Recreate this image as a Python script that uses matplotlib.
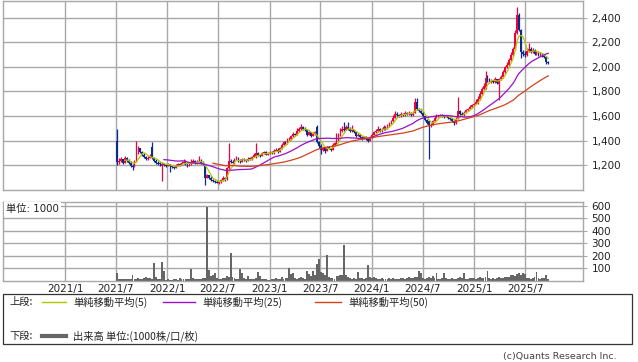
import numpy as np
import pandas as pd
import matplotlib
matplotlib.use('Agg')
import matplotlib.pyplot as plt
import matplotlib.dates as mdates
from matplotlib.lines import Line2D
from matplotlib.patches import Rectangle
from matplotlib.ticker import FixedLocator, FuncFormatter

W, H = 638, 362
plt.rcParams['font.family'] = ['DejaVu Sans', 'Noto Sans CJK JP']

# ---------------- data (weekly candles) ----------------
start_week = '2021-07-05'

opens = [
    1400, 1230, 1240, 1250, 1225, 1260, 1240, 1225, 1200, 1190,
    1235, 1300, 1340, 1310, 1290, 1270, 1250, 1265, 1350, 1260,
    1240, 1225, 1215, 1200, 1215, 1205, 1200, 1210, 1195, 1185,
    1180, 1200, 1210, 1205, 1220, 1230, 1215, 1200, 1210, 1225,
    1235, 1220, 1230, 1240, 1225, 1200, 1100, 1120, 1100, 1080,
    1075, 1070, 1060, 1065, 1080, 1100, 1090, 1180, 1240, 1230,
    1220, 1250, 1260, 1240, 1230, 1250, 1245, 1240, 1255, 1250,
    1270, 1270, 1300, 1290, 1280, 1300, 1310, 1290, 1300, 1310,
    1300, 1320, 1330, 1310, 1340, 1370, 1390, 1380, 1410, 1420,
    1440, 1460, 1450, 1480, 1500, 1510, 1500, 1490, 1450, 1470,
    1440, 1460, 1510, 1390, 1360, 1330, 1340, 1320, 1350, 1340,
    1330, 1370, 1380, 1400, 1440, 1480, 1500, 1490, 1510, 1500,
    1480, 1490, 1470, 1440, 1450, 1430, 1420, 1430, 1420, 1400,
    1430, 1450, 1470, 1480, 1500, 1480, 1490, 1510, 1500, 1520,
    1540, 1560, 1590, 1620, 1610, 1600, 1620, 1610, 1630, 1620,
    1625, 1610, 1630, 1720, 1660, 1640, 1630, 1600, 1570, 1560,
    1520, 1530, 1560, 1590, 1600, 1600, 1610, 1600, 1595, 1600,
    1590, 1580, 1560, 1545, 1580, 1640, 1620, 1610, 1630, 1650,
    1660, 1680, 1690, 1700, 1700, 1740, 1780, 1820, 1830, 1910,
    1900, 1880, 1890, 1880, 1900, 1860, 1900, 1920, 1960, 2000,
    2020, 2060, 2100, 2150, 2280, 2420, 2300, 2120, 2110, 2100,
    2130, 2150, 2120, 2140, 2110, 2120, 2100, 2110, 2090, 2080,
    2040,
]

highs = [
    1495, 1260, 1270, 1255, 1280, 1265, 1250, 1235, 1215, 1240,
    1400, 1360, 1345, 1320, 1300, 1280, 1275, 1290, 1390, 1270,
    1250, 1235, 1225, 1225, 1220, 1215, 1220, 1215, 1200, 1195,
    1210, 1220, 1220, 1235, 1250, 1240, 1225, 1220, 1250, 1250,
    1240, 1240, 1275, 1250, 1235, 1210, 1130, 1125, 1110, 1090,
    1085, 1080, 1075, 1090, 1110, 1105, 1190, 1380, 1255, 1240,
    1260, 1275, 1265, 1250, 1260, 1260, 1255, 1265, 1265, 1280,
    1300, 1380, 1305, 1295, 1310, 1320, 1315, 1305, 1320, 1315,
    1335, 1345, 1340, 1350, 1380, 1400, 1395, 1420, 1430, 1450,
    1470, 1465, 1500, 1510, 1540, 1520, 1510, 1495, 1480, 1475,
    1470, 1480, 1530, 1400, 1370, 1350, 1345, 1360, 1355, 1345,
    1380, 1390, 1460, 1460, 1500, 1520, 1555, 1530, 1550, 1510,
    1525, 1490, 1475, 1460, 1455, 1435, 1440, 1435, 1425, 1440,
    1460, 1480, 1495, 1520, 1505, 1500, 1525, 1520, 1535, 1550,
    1570, 1610, 1640, 1630, 1615, 1630, 1625, 1640, 1635, 1640,
    1630, 1640, 1750, 1745, 1670, 1650, 1640, 1605, 1575, 1565,
    1545, 1565, 1600, 1615, 1610, 1620, 1615, 1610, 1610, 1605,
    1595, 1585, 1565, 1590, 1755, 1650, 1630, 1640, 1660, 1670,
    1690, 1700, 1710, 1740, 1760, 1800, 1840, 1870, 1970, 1930,
    1910, 1905, 1895, 1915, 1905, 1910, 1935, 1975, 2010, 2040,
    2075, 2120, 2160, 2300, 2490, 2440, 2310, 2140, 2125, 2150,
    2190, 2160, 2150, 2145, 2130, 2125, 2120, 2115, 2100, 2085,
    2050,
]

lows = [
    1200, 1215, 1225, 1215, 1220, 1230, 1215, 1190, 1160, 1185,
    1230, 1295, 1300, 1280, 1260, 1240, 1245, 1260, 1255, 1230,
    1215, 1205, 1195, 1070, 1195, 1185, 1195, 1150, 1175, 1170,
    1175, 1195, 1195, 1200, 1215, 1205, 1190, 1195, 1205, 1220,
    1210, 1215, 1225, 1215, 1200, 1040, 1095, 1090, 1070, 1065,
    1060, 1055, 1050, 1060, 1075, 1075, 1085, 1170, 1220, 1210,
    1215, 1245, 1230, 1220, 1225, 1235, 1230, 1235, 1240, 1245,
    1265, 1260, 1280, 1270, 1275, 1290, 1285, 1285, 1295, 1290,
    1295, 1315, 1300, 1305, 1335, 1365, 1370, 1375, 1400, 1410,
    1430, 1440, 1445, 1475, 1490, 1490, 1480, 1440, 1445, 1430,
    1435, 1450, 1380, 1340, 1290, 1320, 1300, 1315, 1330, 1320,
    1325, 1360, 1375, 1395, 1435, 1470, 1480, 1485, 1490, 1470,
    1470, 1460, 1430, 1435, 1420, 1410, 1415, 1410, 1390, 1395,
    1425, 1445, 1465, 1475, 1470, 1475, 1485, 1490, 1495, 1515,
    1535, 1555, 1585, 1600, 1590, 1595, 1600, 1605, 1610, 1610,
    1600, 1605, 1625, 1650, 1630, 1620, 1590, 1560, 1540, 1250,
    1510, 1525, 1555, 1585, 1590, 1595, 1590, 1585, 1590, 1580,
    1570, 1550, 1525, 1540, 1575, 1610, 1600, 1605, 1625, 1645,
    1655, 1670, 1685, 1695, 1695, 1735, 1770, 1810, 1820, 1880,
    1870, 1870, 1870, 1870, 1860, 1730, 1890, 1910, 1950, 1990,
    2010, 2050, 2090, 2140, 2270, 2290, 2070, 2090, 2080, 2090,
    2120, 2110, 2110, 2100, 2100, 2090, 2090, 2080, 2070, 2020,
    2020,
]

closes = [
    1230, 1240, 1250, 1225, 1260, 1240, 1225, 1200, 1190, 1230,
    1300, 1340, 1310, 1290, 1270, 1250, 1265, 1280, 1260, 1240,
    1225, 1215, 1210, 1215, 1205, 1200, 1210, 1195, 1185, 1180,
    1200, 1210, 1205, 1220, 1230, 1215, 1200, 1210, 1225, 1235,
    1220, 1230, 1240, 1225, 1210, 1100, 1120, 1100, 1080, 1075,
    1070, 1060, 1065, 1080, 1100, 1090, 1180, 1240, 1230, 1220,
    1250, 1260, 1240, 1230, 1250, 1245, 1240, 1255, 1250, 1270,
    1290, 1300, 1290, 1280, 1300, 1310, 1290, 1300, 1310, 1300,
    1320, 1330, 1310, 1340, 1370, 1390, 1380, 1410, 1420, 1440,
    1460, 1450, 1480, 1500, 1510, 1500, 1490, 1450, 1470, 1440,
    1460, 1470, 1390, 1360, 1330, 1340, 1320, 1350, 1340, 1330,
    1370, 1380, 1400, 1440, 1480, 1500, 1490, 1510, 1500, 1480,
    1490, 1470, 1440, 1450, 1430, 1420, 1430, 1420, 1400, 1430,
    1450, 1470, 1480, 1500, 1480, 1490, 1510, 1500, 1520, 1540,
    1560, 1590, 1620, 1610, 1600, 1620, 1610, 1630, 1620, 1625,
    1610, 1630, 1720, 1660, 1640, 1630, 1600, 1570, 1550, 1520,
    1530, 1560, 1590, 1600, 1600, 1610, 1600, 1595, 1600, 1590,
    1580, 1560, 1545, 1580, 1640, 1620, 1610, 1630, 1650, 1660,
    1680, 1690, 1700, 1720, 1740, 1780, 1820, 1850, 1910, 1900,
    1880, 1890, 1880, 1900, 1870, 1900, 1920, 1960, 2000, 2020,
    2060, 2100, 2150, 2280, 2420, 2300, 2120, 2110, 2100, 2130,
    2150, 2120, 2140, 2110, 2120, 2100, 2110, 2090, 2080, 2040,
    2030,
]

volumes = [
    62, 16, 12, 14, 15, 12, 18, 14, 50, 18,
    15, 20, 17, 14, 22, 35, 20, 25, 18, 140,
    30, 12, 15, 155, 83, 10, 12, 8, 10, 15,
    12, 10, 20, 14, 18, 12, 16, 15, 97, 20,
    12, 14, 18, 15, 20, 25, 592, 88, 43, 45,
    67, 20, 18, 15, 20, 25, 40, 30, 222, 35,
    20, 15, 18, 97, 62, 20, 18, 43, 15, 12,
    18, 20, 75, 40, 15, 12, 18, 10, 8, 12,
    15, 20, 18, 14, 35, 12, 20, 25, 107, 56,
    62, 20, 18, 25, 30, 20, 15, 83, 56, 40,
    83, 45, 137, 177, 75, 60, 45, 204, 30, 20,
    25, 18, 43, 40, 45, 50, 284, 45, 35, 25,
    18, 20, 15, 75, 20, 25, 18, 20, 131, 30,
    25, 28, 20, 15, 18, 22, 15, 12, 18, 20,
    15, 22, 18, 12, 15, 20, 25, 18, 22, 30,
    20, 25, 35, 30, 83, 62, 25, 18, 20, 30,
    25, 43, 20, 62, 18, 15, 20, 62, 25, 18,
    15, 20, 18, 15, 25, 30, 20, 62, 18, 15,
    20, 25, 22, 18, 20, 30, 25, 20, 35, 83,
    25, 18, 20, 15, 22, 35, 20, 25, 30, 28,
    35, 45, 50, 43, 55, 60, 45, 62, 56, 25,
    20, 18, 25, 30, 75, 22, 18, 20, 25, 50,
    15,
]

price_ticks = [1200, 1400, 1600, 1800, 2000, 2200, 2400]
volume_ticks = [100, 200, 300, 400, 500, 600]
date_ticks = ['2021-01-01', '2021-07-01', '2022-01-01', '2022-07-01', '2023-01-01',
              '2023-07-01', '2024-01-01', '2024-07-01', '2025-01-01', '2025-07-01']
date_labels = ['2021/1', '2021/7', '2022/1', '2022/7', '2023/1',
               '2023/7', '2024/1', '2024/7', '2025/1', '2025/7']
ma_windows = [5, 25, 50]
ma_labels = ['単純移動平均(5)', '単純移動平均(25)', '単純移動平均(50)']

# ---------------- styles ----------------
UP = '#f0003c'
DOWN = '#0c2c8c'
MA_COLORS = ['#b4c800', '#9a10c8', '#d4401a']
GRID = '#a8a8a8'
VOL = '#666666'

n = min(len(opens), len(highs), len(lows), len(closes), len(volumes))
o = np.array(opens[:n], float)
h = np.array(highs[:n], float)
l = np.array(lows[:n], float)
c = np.array(closes[:n], float)
v = np.array(volumes[:n], float)
dates = pd.date_range(start_week, periods=n, freq='7D')
xd = mdates.date2num(dates)

fig = plt.figure(figsize=(W / 100, H / 100), dpi=100)


def fx(px):
    return px / W


def fy(py):
    return 1 - py / H


ax1 = fig.add_axes([fx(3), fy(190), fx(583) - fx(3), fy(1) - fy(190)])
ax2 = fig.add_axes([fx(3), fy(281), fx(583) - fx(3), fy(202) - fy(281)])

d0 = mdates.date2num(pd.Timestamp('2021-01-01'))
ppd = 0.28015
xlim = (d0 - 62 / ppd, d0 + 518 / ppd)
tick_x = [mdates.date2num(pd.Timestamp(t)) for t in date_ticks]

for ax in (ax1, ax2):
    ax.set_xlim(*xlim)
    ax.xaxis.set_major_locator(FixedLocator(tick_x))
    ax.grid(True, color=GRID, lw=1.0)
    ax.set_axisbelow(True)
    for s in ax.spines.values():
        s.set_color(GRID)
        s.set_linewidth(1.0)
    ax.yaxis.tick_right()
    ax.tick_params(axis='y', which='both', length=3, width=0.8, color=GRID,
                   labelsize=7.5, pad=3, labelcolor='#222222')
    ax.set_facecolor('white')

# price panel
up = c >= o
col = np.where(up, UP, DOWN)
ax1.vlines(xd, l, h, colors=col, lw=0.9, zorder=2)
body = np.maximum(np.abs(c - o), 8)
ax1.bar(xd, body, bottom=np.minimum(o, c) - 2, width=6.2, color=col, linewidth=0, zorder=2)
cs = pd.Series(c)
for w, mc in zip(ma_windows, MA_COLORS):
    ma = cs.rolling(w).mean()
    ax1.plot(xd, ma, color=mc, lw=0.9, zorder=3)
ax1.set_ylim(1000, 2535)
ax1.yaxis.set_major_locator(FixedLocator(price_ticks))
ax1.yaxis.set_major_formatter(FuncFormatter(lambda y, p: f'{int(y):,}'))
ax1.tick_params(axis='x', length=0, labelbottom=False)

# volume panel
ax2.bar(xd, v, width=6.8, color=VOL, linewidth=0, zorder=2)
ax2.set_ylim(0, 628)
ax2.yaxis.set_major_locator(FixedLocator(volume_ticks))
ax2.set_xticklabels(date_labels)
ax2.tick_params(axis='x', length=0, labelsize=7.5, pad=2, labelcolor='#222222')
fig.text(fx(6), fy(209), '単位: 1000', fontsize=7.4, va='center', ha='left', color='#222222',
         family=['DejaVu Sans', 'Noto Sans CJK JP'],
         bbox=dict(fc='white', ec='none', pad=1.2))

# legend box
fig.patches.append(Rectangle((fx(3), fy(344)), fx(632) - fx(3), fy(294) - fy(344),
                             transform=fig.transFigure, fill=False, ec='#333333', lw=0.9))
jp = ['Noto Sans CJK JP', 'DejaVu Sans']
fs = 7.4
r1, r2 = 302, 336
fig.text(fx(9), fy(r1), '上段:', fontsize=fs, va='center', family=jp, color='#222222')
seg = [(42, 66, 73), (163, 195, 202), (315, 341, 348)]
for (a, b, t), mc, lab in zip(seg, MA_COLORS, ma_labels):
    fig.lines.append(Line2D([fx(a), fx(b)], [fy(r1), fy(r1)], transform=fig.transFigure,
                            color=mc, lw=1.0))
    fig.text(fx(t), fy(r1), lab, fontsize=fs, va='center', family=jp, color='#222222')
fig.text(fx(9), fy(r2), '下段:', fontsize=fs, va='center', family=jp, color='#222222')
fig.lines.append(Line2D([fx(42), fx(66)], [fy(r2), fy(r2)], transform=fig.transFigure,
                        color=VOL, lw=3.0))
fig.text(fx(73), fy(r2), '出来高 単位:(1000株/口/枚)', fontsize=fs, va='center', family=jp,
         color='#222222')

fig.text(fx(617), fy(356), '(c)Quants Research Inc.', fontsize=6.8, ha='right', va='center',
         color='#444444')

fig.savefig('out.png', dpi=100)
